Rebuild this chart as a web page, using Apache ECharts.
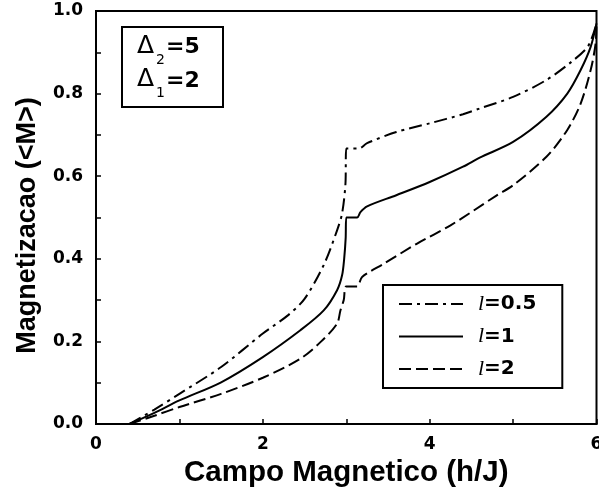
<!DOCTYPE html>
<html>
<head>
<meta charset="utf-8">
<script src="https://cdn.jsdelivr.net/npm/echarts@6/dist/echarts.min.js"></script>
<style>
  html, body { margin: 0; padding: 0; background: #fff; }
  #chart { width: 599px; height: 490px; }
</style>
</head>
<body>
<div id="chart"></div>
<script>
// campo magnetico h/J (x) e magnetizacao <M> (y)
var hHalf = [0.4, 0.7, 1.0, 1.5, 2.0, 2.3, 2.5, 2.73, 2.89, 2.95, 2.99, 3.0, 3.15, 3.25, 3.6, 4.0, 4.4, 4.6, 5.0, 5.4, 5.7, 5.9, 6.0];
var mHalf = [0, 0.035, 0.073, 0.138, 0.219, 0.263, 0.303, 0.385, 0.469, 0.51, 0.58, 0.667, 0.667, 0.68, 0.707, 0.728, 0.75, 0.764, 0.792, 0.833, 0.877, 0.915, 0.97];

var hOne = [0.4, 0.7, 1.0, 1.5, 2.0, 2.45, 2.73, 2.89, 2.95, 2.975, 2.993, 3.0, 3.13, 3.17, 3.25, 3.6, 4.0, 4.4, 4.6, 5.0, 5.4, 5.65, 5.81, 5.93, 6.0];
var mOne = [0, 0.027, 0.057, 0.101, 0.162, 0.227, 0.275, 0.324, 0.36, 0.4, 0.45, 0.5, 0.5, 0.513, 0.527, 0.554, 0.586, 0.623, 0.645, 0.683, 0.744, 0.80, 0.857, 0.913, 0.97];

var hTwo = [0.4, 0.7, 1.0, 1.5, 2.0, 2.45, 2.7, 2.89, 2.93, 2.97, 3.0, 3.13, 3.19, 3.45, 3.85, 4.25, 4.8, 5.0, 5.4, 5.65, 5.81, 5.93, 5.99, 6.0];
var mTwo = [0, 0.02, 0.041, 0.073, 0.112, 0.158, 0.20, 0.243, 0.275, 0.30, 0.333, 0.333, 0.356, 0.388, 0.437, 0.481, 0.553, 0.578, 0.647, 0.712, 0.776, 0.857, 0.922, 0.97];

var seriesNames = ['l=0.5', 'l=1', 'l=2'];
var xTicks = [0, 2, 4, 6];

function pares(xs, ys) {
    return xs.map(function (x, i) { return [x, ys[i]]; });
}

var myChart = echarts.init(document.getElementById('chart'));

var numFont = 'DejaVu Sans';
var titleFont = 'Liberation Sans';

function linha(name, xs, ys, dash) {
    return {
        name: name,
        type: 'line',
        data: pares(xs, ys),
        symbol: 'none',
        showSymbol: false,
        smooth: 0.3,
        lineStyle: { color: '#000', width: 2, type: dash },
        itemStyle: { color: '#000' },
        animation: false
    };
}

var option = {
    backgroundColor: '#fff',
    grid: {
        left: 96, right: 2.5, top: 11, bottom: 66,
        outerBoundsMode: 'none',
        containLabel: false,
        show: true, borderColor: '#000', borderWidth: 2
    },
    xAxis: {
        type: 'value',
        min: 0, max: 6, interval: 2,
        axisLine: { show: true, lineStyle: { color: '#000', width: 2 } },
        axisTick: { show: true, inside: true, length: 5, lineStyle: { color: '#000', width: 1.5 } },
        minorTick: { show: true, splitNumber: 2, length: 5, lineStyle: { color: '#000', width: 1.5 } },
        splitLine: { show: false },
        axisLabel: {
            margin: 12, color: '#000', fontFamily: numFont, fontWeight: 'bold', fontSize: 17,
            formatter: function (v) { return xTicks.indexOf(v) >= 0 ? String(v) : ''; }
        },
        name: 'Campo Magnetico (h/J)',
        nameLocation: 'middle',
        nameGap: 29,
        nameTextStyle: { color: '#000', fontFamily: titleFont, fontWeight: 'bold', fontSize: 29.5 }
    },
    yAxis: {
        type: 'value',
        min: 0, max: 1, interval: 0.2,
        axisLine: { show: true, lineStyle: { color: '#000', width: 2 } },
        axisTick: { show: true, inside: true, length: 5, lineStyle: { color: '#000', width: 1.5 } },
        minorTick: { show: true, splitNumber: 2, length: 5, lineStyle: { color: '#000', width: 1.5 } },
        splitLine: { show: false },
        axisLabel: {
            margin: 13, color: '#000', fontFamily: numFont, fontWeight: 'bold', fontSize: 17,
            formatter: function (v) { return v.toFixed(1); }
        },
        name: 'Magnetizacao (<M>)',
        nameLocation: 'middle',
        nameGap: 55,
        nameRotate: 90,
        nameTextStyle: {
            color: '#000', fontFamily: titleFont, fontWeight: 'bold', fontSize: 27,
            padding: [0, 16, 0, 0]
        }
    },
    legend: {
        orient: 'vertical',
        left: 383, top: 285,
        padding: [8, 26, 8, 15],
        itemGap: 10.5,
        itemWidth: 64,
        itemHeight: 14,
        borderColor: '#000',
        borderWidth: 2,
        backgroundColor: '#fff',
        selectedMode: false,
        data: seriesNames,
        itemStyle: { opacity: 0 },
        formatter: function (name) {
            return '{i|l}{b|' + name.slice(1) + '}';
        },
        textStyle: {
            color: '#000',
            rich: {
                i: { fontFamily: 'Liberation Serif', fontStyle: 'italic', fontSize: 22, color: '#000', padding: [0, 0, 0, 10] },
                b: { fontFamily: numFont, fontWeight: 'bold', fontSize: 20, color: '#000' }
            }
        }
    },
    graphic: [
        {
            type: 'rect',
            shape: { x: 122, y: 27, width: 101, height: 80 },
            style: { fill: '#fff', stroke: '#000', lineWidth: 2 }
        },
        { type: 'text', x: 137, y: 46, style: { text: 'Δ', font: '25px "DejaVu Sans"', fill: '#000', textAlign: 'left', textVerticalAlign: 'middle' } },
        { type: 'text', x: 156, y: 60, style: { text: '2', font: '14px "DejaVu Sans"', fill: '#000', textAlign: 'left', textVerticalAlign: 'middle' } },
        { type: 'text', x: 166, y: 47, style: { text: '=5', font: 'bold 22px "DejaVu Sans"', fill: '#000', textAlign: 'left', textVerticalAlign: 'middle' } },
        { type: 'text', x: 137, y: 79, style: { text: 'Δ', font: '25px "DejaVu Sans"', fill: '#000', textAlign: 'left', textVerticalAlign: 'middle' } },
        { type: 'text', x: 156, y: 93, style: { text: '1', font: '14px "DejaVu Sans"', fill: '#000', textAlign: 'left', textVerticalAlign: 'middle' } },
        { type: 'text', x: 166, y: 81, style: { text: '=2', font: 'bold 22px "DejaVu Sans"', fill: '#000', textAlign: 'left', textVerticalAlign: 'middle' } }
    ],
    series: [
        linha(seriesNames[0], hHalf, mHalf, [13, 5, 3, 5]),
        linha(seriesNames[1], hOne, mOne, 'solid'),
        linha(seriesNames[2], hTwo, mTwo, [12, 5])
    ],
    animation: false
};

myChart.setOption(option);
</script>
</body>
</html>
